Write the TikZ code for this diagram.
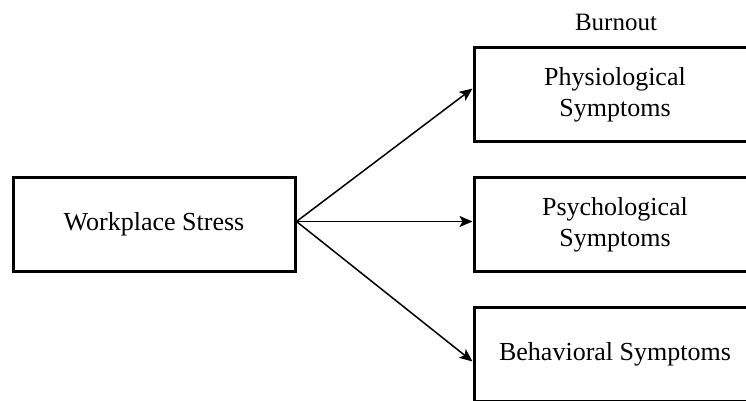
\documentclass[tikz,border=0pt]{standalone}
\usepackage{fontspec}
\setmainfont{Liberation Serif}
\usetikzlibrary{arrows.meta,positioning}
\tikzset{box style/.style={draw,line width=3pt,minimum width=282pt,minimum height=94pt,
	align=center,font=\fontsize{26}{31}\selectfont},
	link style/.style={line width=1.5pt,-{Stealth[length=13pt,width=11pt,inset=3pt]}}}

\begin{document}
\begin{tikzpicture}[x=1pt,y=-1pt,node distance=33pt]
	\useasboundingbox (0,0) rectangle (746,400);
	
	\node[box style] (ws) at (154,224.5) {Workplace Stress};
	\node[box style] (phys) at (615,94.5) {Physiological\\Symptoms};
	\node[box style] [below=of phys] (psych) {Psychological\\Symptoms};
	\node[box style] [below=of psych] (behav) {Behavioral Symptoms};
	\node[font=\fontsize{25}{30}\selectfont] (burn) at (616,22) {Burnout};
	\coordinate (fork) at ([yshift=3pt]ws.east);
	
	\draw[link style] (fork) -- ([yshift=6pt]phys.west);
	\draw[link style] (fork) -- ([yshift=3pt]psych.west);
	\draw[link style] (fork) -- ([yshift=-7pt]behav.west);
\end{tikzpicture}
\end{document}
